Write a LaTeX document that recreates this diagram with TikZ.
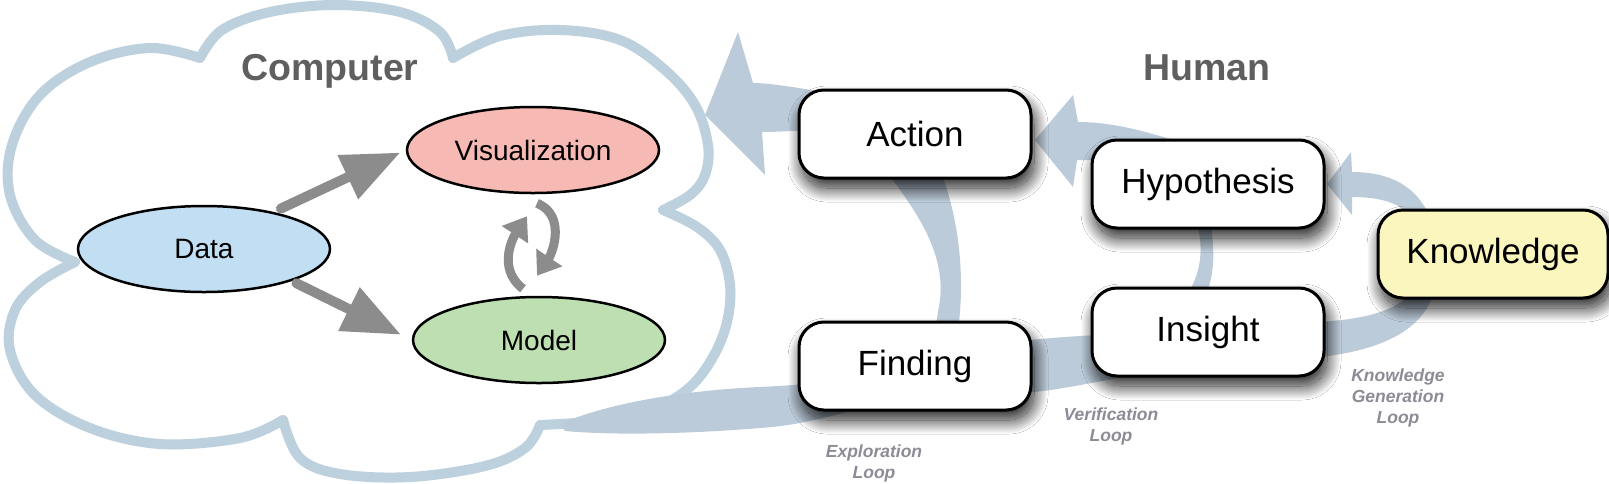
\documentclass[tikz,border=0pt]{standalone}
\usepackage{fontspec}
\setmainfont{Liberation Sans}
\usetikzlibrary{shapes.geometric,shadows.blur,arrows.meta,calc}
\definecolor{cloudc}{RGB}{188,208,222}
\definecolor{bandc}{RGB}{188,203,217}
\definecolor{garr}{RGB}{140,140,140}
\definecolor{titlec}{RGB}{95,95,95}
\definecolor{loopc}{RGB}{140,140,150}
\definecolor{datac}{RGB}{194,222,243}
\definecolor{visc}{RGB}{247,185,179}
\definecolor{modelc}{RGB}{190,223,178}
\definecolor{knowc}{RGB}{250,246,190}
\tikzset{
 cloudline/.style={draw=cloudc, line width=5pt, line cap=round, line join=round},
 band/.style={fill=bandc},
 ell/.style={ellipse, draw=black, line width=1.25pt, minimum width=126pt, minimum height=43pt, inner sep=0pt, font=\fontsize{14}{16}\selectfont},
 box/.style={rectangle, rounded corners=12.5pt, draw=black, line width=1.5pt, fill=white, minimum width=116pt, minimum height=44pt, inner sep=0pt, font=\fontsize{17.5}{21}\selectfont, blur shadow={shadow xshift=1.5pt, shadow yshift=-5pt, shadow blur radius=7pt, shadow blur steps=40, shadow opacity=90}},
 garrow/.style={draw=garr, line width=5pt, line cap=round, -{Triangle[length=29pt,width=23pt]}},
 carrow/.style={draw=garr, line width=4.5pt, -{Triangle[length=11pt,width=15pt]}},
 title/.style={font=\bfseries\fontsize{18.75}{22}\selectfont, text=titlec, anchor=base},
 looplabel/.style={font=\bfseries\itshape\fontsize{8.75}{10.5}\selectfont, text=loopc, align=center},
}
\begin{document}
\begin{tikzpicture}[x=0.5pt,y=0.5pt]
\fill[white] (0,0) rectangle (1609,-483);
\useasboundingbox (0,0) rectangle (1609,-483);
% cloud
\draw[cloudline] plot[smooth,tension=0.6] coordinates {(75,-262) (35,-240) (10,-195) (12,-145) (40,-95) (90,-62) (150,-48) (200,-58)};
\draw[cloudline] plot[smooth,tension=0.6] coordinates {(200,-58) (222,-30) (270,-12) (335,-5) (400,-12) (440,-32) (453,-58)};
\draw[cloudline] plot[smooth,tension=0.6] coordinates {(453,-58) (500,-36) (560,-30) (620,-40) (665,-70) (695,-105) (708,-145) (705,-175) (690,-195) (663,-210)};
\draw[cloudline] plot[smooth,tension=0.6] coordinates {(663,-210) (697,-227) (720,-250) (730,-285) (727,-322) (713,-357) (690,-387) (657,-407) (607,-420) (540,-425)};
\draw[cloudline] plot[smooth,tension=0.6] coordinates {(540,-425) (525,-448) (485,-466) (410,-477) (340,-474) (300,-458) (283,-420)};
\draw[cloudline] plot[smooth,tension=0.6] coordinates {(283,-420) (240,-438) (160,-444) (90,-428) (35,-395) (10,-350) (15,-310) (40,-282) (75,-262)};
% exploration loop bands
\fill[band] (560,-424) .. controls (610,-402) and (690,-390) .. (760,-387) .. controls (800,-385) and (830,-382) .. (860,-380) -- (860,-408) .. controls (820,-420) and (790,-426) .. (760,-428) .. controls (700,-433) and (620,-436) .. (565,-431) -- cycle;
\fill[band] (885,-170) .. controls (920,-215) and (945,-255) .. (940,-300) -- (935,-330) -- (958,-330) .. controls (965,-280) and (960,-220) .. (940,-170) -- cycle;
\fill[band] (840,-95) .. controls (800,-88) and (770,-83) .. (753,-83) -- (738,-32) -- (705,-115) -- (765,-175) -- (762,-132) .. controls (780,-132) and (810,-130) .. (840,-128) -- cycle;
% verification loop bands
\fill[band] (1020,-341) .. controls (1050,-338) and (1075,-336) .. (1100,-335) -- (1130,-335) -- (1130,-370) -- (1113,-379) .. controls (1075,-386) and (1045,-392) .. (1020,-393) -- cycle;
\fill[band] (1196,-220) .. controls (1205,-250) and (1200,-275) .. (1187,-295) -- (1206,-295) .. controls (1216,-270) and (1214,-245) .. (1210,-220) -- cycle;
\fill[band] (1180,-150) -- (1170,-139) .. controls (1140,-130) and (1110,-122) .. (1078,-122) -- (1073,-95) -- (1035,-140) -- (1073,-187) -- (1077,-160) -- (1180,-160) -- cycle;
% knowledge generation loop bands
\fill[band] (1310,-322) .. controls (1350,-321) and (1395,-315) .. (1414,-290) -- (1434,-290) .. controls (1425,-330) and (1380,-352) .. (1310,-358) -- cycle;
\fill[band] (1432,-222) .. controls (1420,-190) and (1395,-172) .. (1352,-172) -- (1351,-152) -- (1327,-184) -- (1352,-215) -- (1352,-197) .. controls (1385,-197) and (1405,-205) .. (1414,-222) -- cycle;
% computer side
\node[ell, fill=datac] (data) at (204,-249) {Data};
\node[ell, fill=visc] (vis) at (533,-150) {Visualization};
\node[ell, fill=modelc] (model) at (539,-340) {Model};
\draw[garrow, shorten <=4pt, shorten >=3pt] (data.28) -- (vis.west);
\draw[garrow, shorten <=2.5pt, shorten >=6pt] (data.-20) -- (model.west);
\draw[carrow] ($(model.north)+(-16,7)$) .. controls (496,-268) and (514,-236) .. ($(vis.south)+(-6,-22)$);
\draw[carrow] ($(vis.south)+(4,-9)$) .. controls (566,-215) and (553,-252) .. ($(model.north)+(-2,20)$);
\node[title] (computer) at (330,-80) {Computer};
\node[title] (human) at (1207,-80) {Human};
% human side
\node[box] (action) at (915,-134) {Action};
\node[box] (finding) at (915,-366) {Finding};
\node[box] (hyp) at (1208,-184) {Hypothesis};
\node[box] (insight) at (1208,-332) {Insight};
\node[box, fill=knowc, minimum width=115pt] (know) at (1493,-254) {Knowledge};
\node[looplabel] (lexp) at (874,-463) {Exploration\\Loop};
\node[looplabel] (lver) at (1111,-426) {Verification\\Loop};
\node[looplabel] (lknow) at (1398,-398) {Knowledge\\Generation\\Loop};
\end{tikzpicture}
\end{document}
